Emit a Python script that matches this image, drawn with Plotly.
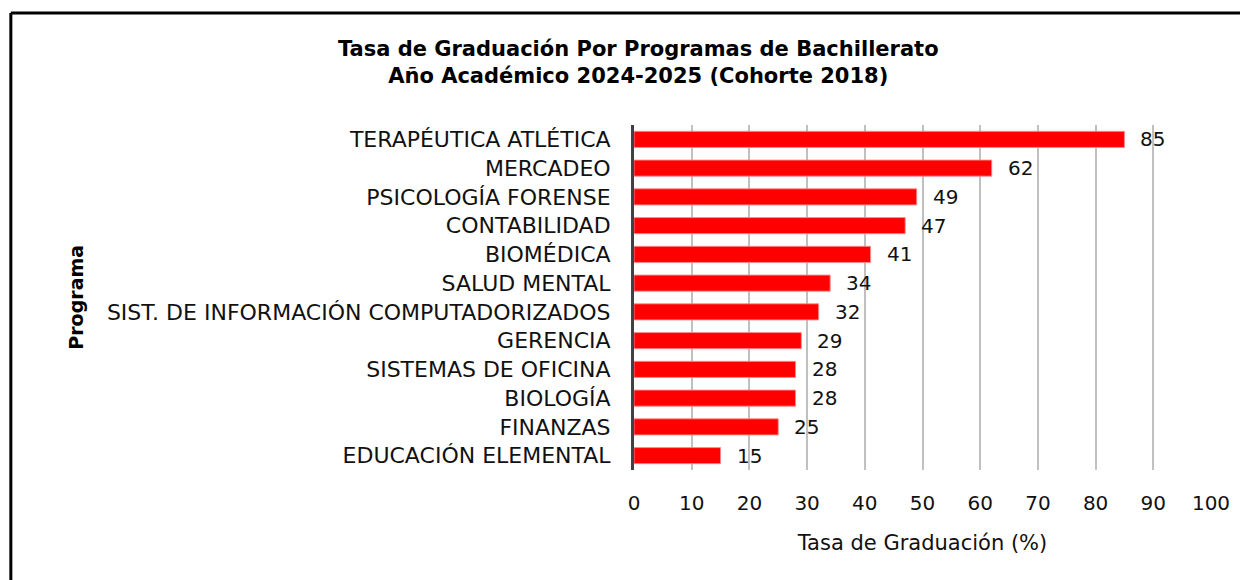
import plotly.graph_objects as go

# datos (de abajo hacia arriba en el gráfico)
programas = [
    'EDUCACIÓN ELEMENTAL', 'FINANZAS', 'BIOLOGÍA', 'SISTEMAS DE OFICINA',
    'GERENCIA', 'SIST. DE INFORMACIÓN COMPUTADORIZADOS', 'SALUD MENTAL',
    'BIOMÉDICA', 'CONTABILIDAD', 'PSICOLOGÍA FORENSE', 'MERCADEO',
    'TERAPÉUTICA ATLÉTICA',
]
tasa = [15, 25, 28, 28, 29, 32, 34, 41, 47, 49, 62, 85]
x_ticks = [0, 10, 20, 30, 40, 50, 60, 70, 80, 90, 100]

FONT = 'DejaVu Sans'

fig = go.Figure()
fig.add_trace(go.Bar(
    x=tasa, y=programas, orientation='h',
    marker=dict(color='#ff0000', line=dict(color='rgba(255,140,140,0.9)', width=1)),
    width=0.56,
))

# etiquetas de valor
for v, p in zip(tasa, programas):
    fig.add_annotation(
        x=v, y=p, text=str(v), showarrow=False,
        xanchor='left', xshift=14,
        font=dict(family=FONT, size=20, color='#111111'),
    )

# título del eje Y (rotado)
fig.add_annotation(
    x=-0.991, y=0.5, xref='paper', yref='paper', text='<b>Programa</b>',
    textangle=-90, showarrow=False,
    font=dict(family=FONT, size=19, color='black'),
)

fig.update_layout(
    width=1248, height=580,
    paper_bgcolor='white', plot_bgcolor='white',
    margin=dict(l=626, r=45, t=117, b=118),
    showlegend=False,
    font=dict(family=FONT, color='#111111'),
    title=dict(
        text='Tasa de Graduación Por Programas de Bachillerato<br>Año Académico 2024-2025 (Cohorte 2018)',
        x=0.505, xanchor='center', y=0.918, yanchor='top',
        font=dict(family=FONT, size=21, color='black', weight='bold'),
    ),
    shapes=[
        dict(type='line', xref='paper', yref='paper', x0=-1.08, x1=1.2, y0=1.325, y1=1.325,
             line=dict(color='black', width=3)),
        dict(type='line', xref='paper', yref='paper', x0=-1.08, x1=-1.08, y0=1.325, y1=-0.4,
             line=dict(color='black', width=3)),
    ],
)
fig.update_xaxes(
    range=[0, 100], tickvals=x_ticks,
    showgrid=True, gridcolor='#c0c0c0', gridwidth=2,
    zeroline=False, showline=False,
    tickfont=dict(family=FONT, size=20, color='#111111'),
    ticklabelstandoff=19,
    title=dict(text='Tasa de Graduación (%)', font=dict(family=FONT, size=21, color='#111111'), standoff=21),
)
fig.update_yaxes(
    showline=True, linecolor='#404040', linewidth=3,
    showgrid=False,
    tickfont=dict(family=FONT, size=22, color='#111111'),
    ticklabelstandoff=16,
    range=[-0.5, 11.5],
)

fig.write_html('out.html')
